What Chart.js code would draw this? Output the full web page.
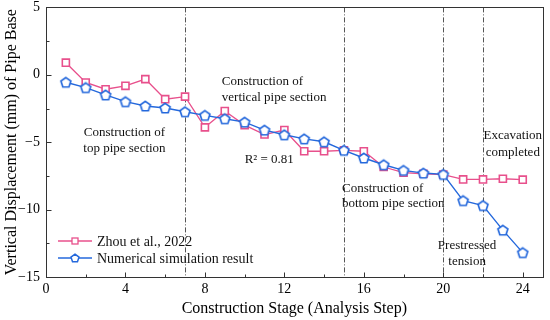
<!DOCTYPE html>
<html><head><meta charset="utf-8">
<script src="https://cdn.jsdelivr.net/npm/chart.js@4.4.0/dist/chart.umd.min.js"></script>
<style>html,body{margin:0;padding:0;background:#fff;}#wrap{width:550px;height:320px;position:relative;}</style>
</head><body><div id="wrap"><canvas id="c"></canvas></div>
<script>
// ---- data ----
const steps = [1,2,3,4,5,6,7,8,9,10,11,12,13,14,15,16,17,18,19,20,21,22,23,24];
const zhouValues = [0.9,-0.57,-1.07,-0.82,-0.32,-1.81,-1.62,-3.9,-2.69,-3.73,-4.43,-4.1,-5.67,-5.67,-5.6,-5.67,-6.84,-7.26,-7.34,-7.41,-7.76,-7.76,-7.71,-7.78];
const simValues = [-0.55,-0.95,-1.49,-1.99,-2.31,-2.46,-2.74,-3.01,-3.26,-3.51,-4.1,-4.45,-4.75,-4.97,-5.6,-6.17,-6.67,-7.09,-7.29,-7.39,-9.33,-9.7,-11.52,-13.19];
const seriesNames = ["Zhou et al., 2022", "Numerical simulation result"];
const xTickValues = [0,4,8,12,16,20,24];
const xTickLabels = ["0","4","8","12","16","20","24"];
const yTickValues = [5,0,-5,-10,-15];
const yTickLabels = ["5","0","\u22125","\u221210","\u221215"];
const xMinorTicks = [2,6,10,14,18,22];
const yMinorTicks = [2.5,-2.5,-7.5,-12.5];
const stageBoundaries = [7,15,20,22];
const xTitle = "Construction Stage (Analysis Step)";
const yTitle = "Vertical Displacement (mm) of Pipe Base";
const annotationTexts = [
  {lines:["Construction of","top pipe section"], x:3.95, y:[-4.26,-5.44], align:"center"},
  {lines:["Construction of","vertical pipe section"], x:8.85, y:[-0.48,-1.67], align:"left"},
  {lines:["R\u00B2 = 0.81"], x:10.0, y:[-6.26], align:"left"},
  {lines:["Construction of","bottom pipe section"], x:14.9, y:[-8.41,-9.59], align:"left"},
  {lines:["Excavation","completed"], x:23.5, y:[-4.48,-5.74], align:"center"},
  {lines:["Prestressed","tension"], x:21.2, y:[-12.7,-13.89], align:"center"}
];

const PINK = '#E8508C';
const BLUE = '#2468DC';
const SERIF = '"Liberation Serif", "Times New Roman", serif';
Chart.defaults.font.family = SERIF;
Chart.defaults.color = '#000';

function makePentagon(r, lw, color) {
  const s = Math.ceil(2 * (r + lw) + 2);
  const c = document.createElement('canvas');
  c.width = s; c.height = s;
  const g = c.getContext('2d');
  g.translate(s / 2, s / 2 + r * 0.1);
  g.beginPath();
  for (let i = 0; i < 5; i++) {
    const a = -Math.PI / 2 + i * 2 * Math.PI / 5;
    const px = r * Math.cos(a), py = r * Math.sin(a);
    if (i === 0) g.moveTo(px, py); else g.lineTo(px, py);
  }
  g.closePath();
  g.fillStyle = '#fff'; g.fill();
  g.lineWidth = lw; g.strokeStyle = color; g.stroke();
  return c;
}
const pentBig = makePentagon(5.2, 1.7, BLUE);
const pentSmall = makePentagon(4.2, 1.5, BLUE);

const overlay = {
  id: 'overlay',
  beforeDatasetsDraw(chart) {
    const {ctx, chartArea: a, scales: {x}} = chart;
    ctx.save();
    ctx.strokeStyle = '#555';
    ctx.lineWidth = 1;
    ctx.setLineDash([5, 2, 1, 2]);
    stageBoundaries.forEach(v => {
      const px = Math.round(x.getPixelForValue(v)) + 0.5;
      ctx.beginPath(); ctx.moveTo(px, a.top); ctx.lineTo(px, a.bottom); ctx.stroke();
    });
    ctx.restore();
  },
  afterDatasetsDraw(chart) {
    const {ctx, chartArea: a, scales: {x, y}} = chart;
    ctx.save();
    ctx.fillStyle = '#111';
    ctx.font = '13px ' + SERIF;
    ctx.textBaseline = 'middle';
    annotationTexts.forEach(t => {
      ctx.textAlign = t.align;
      t.lines.forEach((ln, i) => ctx.fillText(ln, x.getPixelForValue(t.x), y.getPixelForValue(t.y[i])));
    });
    ctx.strokeStyle = '#333';
    ctx.lineWidth = 1;
    ctx.strokeRect(Math.round(a.left) + 0.5, Math.round(a.top) + 0.5, Math.round(a.right - a.left), Math.round(a.bottom - a.top));
    ctx.beginPath();
    const b = Math.round(a.bottom) + 0.5, l = Math.round(a.left) + 0.5;
    xTickValues.forEach(v => { const px = Math.round(x.getPixelForValue(v)) + 0.5; ctx.moveTo(px, b); ctx.lineTo(px, b - 5); });
    xMinorTicks.forEach(v => { const px = Math.round(x.getPixelForValue(v)) + 0.5; ctx.moveTo(px, b); ctx.lineTo(px, b - 3); });
    yTickValues.forEach(v => { const py = Math.round(y.getPixelForValue(v)) + 0.5; ctx.moveTo(l, py); ctx.lineTo(l + 5, py); });
    yMinorTicks.forEach(v => { const py = Math.round(y.getPixelForValue(v)) + 0.5; ctx.moveTo(l, py); ctx.lineTo(l + 3, py); });
    ctx.stroke();
    const items = [
      {name: seriesNames[0], color: PINK, y: 241, mark: 'square'},
      {name: seriesNames[1], color: BLUE, y: 258, mark: 'pent'}
    ];
    ctx.font = '14px ' + SERIF;
    ctx.textAlign = 'left';
    items.forEach(it => {
      ctx.strokeStyle = it.color; ctx.lineWidth = 1.3;
      ctx.beginPath(); ctx.moveTo(58, it.y); ctx.lineTo(92, it.y); ctx.stroke();
      if (it.mark === 'square') {
        ctx.fillStyle = '#fff'; ctx.fillRect(72, it.y - 3, 6, 6);
        ctx.lineWidth = 1.3; ctx.strokeRect(72, it.y - 3, 6, 6);
      } else {
        ctx.drawImage(pentSmall, 75 - pentSmall.width / 2, it.y - pentSmall.height / 2);
      }
      ctx.fillStyle = '#111';
      ctx.fillText(it.name, 97, it.y + 1);
    });
    ctx.restore();
  }
};

new Chart(document.getElementById('c'), {
  type: 'line',
  data: {
    datasets: [
      {
        label: seriesNames[0],
        data: steps.map((s, i) => ({x: s, y: zhouValues[i]})),
        borderColor: PINK, borderWidth: 1.3,
        pointStyle: 'rect', pointRadius: 5, pointBorderWidth: 1.6,
        pointBorderColor: PINK, pointBackgroundColor: '#fff',
        tension: 0, order: 1
      },
      {
        label: seriesNames[1],
        data: steps.map((s, i) => ({x: s, y: simValues[i]})),
        borderColor: BLUE, borderWidth: 1.4,
        pointStyle: pentBig, pointRadius: 6,
        tension: 0, order: 0
      }
    ]
  },
  options: {
    responsive: true, maintainAspectRatio: false, animation: false, events: [],
    layout: {padding: {top: 7, right: 4, left: 0, bottom: 0}},
    plugins: {legend: {display: false}, tooltip: {enabled: false}},
    scales: {
      x: {
        type: 'linear', min: 0, max: 25,
        afterBuildTicks: s => { s.ticks = xTickValues.map(v => ({value: v})); },
        afterFit: s => { s.height = 43; s.paddingLeft = 0; s.paddingRight = 0; },
        grid: {drawOnChartArea: false, drawTicks: false},
        border: {display: false},
        ticks: {font: {size: 14, family: SERIF}, color: '#000', padding: 4,
          callback: (v) => xTickLabels[xTickValues.indexOf(v)]},
        title: {display: true, text: xTitle, font: {size: 16, family: SERIF}, color: '#000', padding: {top: 0, bottom: 2}}
      },
      y: {
        type: 'linear', min: -15, max: 5,
        afterBuildTicks: s => { s.ticks = yTickValues.map(v => ({value: v})); },
        afterFit: s => { s.width = 46; s.paddingTop = 0; s.paddingBottom = 0; },
        grid: {drawOnChartArea: false, drawTicks: false},
        border: {display: false},
        ticks: {font: {size: 14, family: SERIF}, color: '#000', padding: 6,
          callback: (v) => yTickLabels[yTickValues.indexOf(v)]},
        title: {display: true, text: yTitle, font: {size: 16, family: SERIF}, color: '#000', padding: {top: 2, bottom: 0}}
      }
    }
  },
  plugins: [overlay]
});
</script>
</body></html>
